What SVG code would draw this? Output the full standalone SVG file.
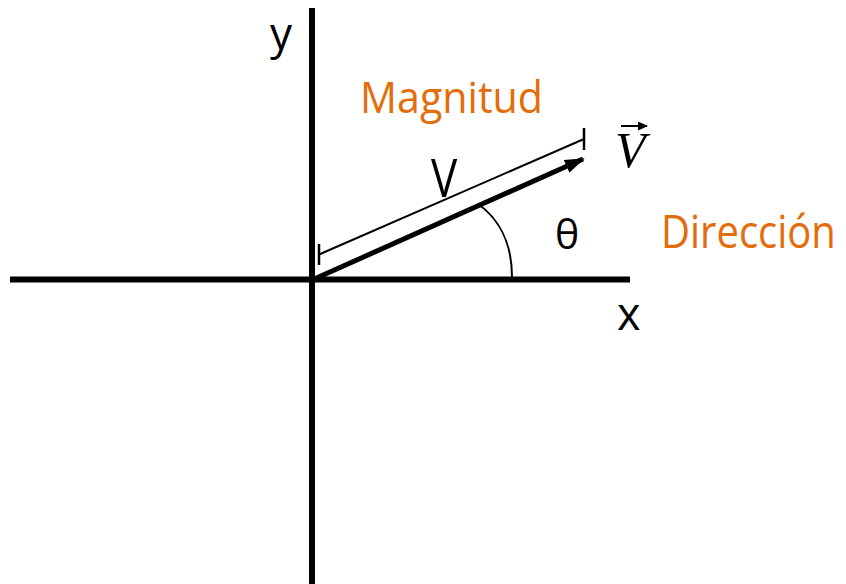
<svg xmlns="http://www.w3.org/2000/svg" width="846" height="584" viewBox="0 0 846 584">
<style>
.lbl{font-family:"Open Sans","DejaVu Sans",sans-serif;fill:#000}
.org{font-family:"Open Sans","DejaVu Sans",sans-serif;fill:#E46C0A}
.ax{stroke:#000;stroke-width:6;fill:none}
.thin{stroke:#000;stroke-width:2;fill:none}
</style>
<defs>
<marker id="ah" markerWidth="10" markerHeight="9" refX="9" refY="4.5" orient="auto" markerUnits="userSpaceOnUse" viewBox="0 0 10 9">
<path d="M0,0 L10,4.5 L0,9 Z" fill="#000"/>
</marker>
<marker id="big" viewBox="0 0 20 14" refX="18" refY="7" markerWidth="20" markerHeight="14" orient="auto" markerUnits="userSpaceOnUse">
<path d="M0,0 L20,7 L0,14 Z" fill="#000"/>
</marker>
</defs>
<rect width="846" height="584" fill="#fff"/>
<g id="axes">
<line class="ax" x1="10" y1="279.5" x2="630" y2="279.5"/>
<line class="ax" x1="312" y1="8" x2="312" y2="584"/>
</g>
<g id="connectors">
<line x1="312" y1="280" x2="583" y2="159" stroke="#000" stroke-width="5" marker-end="url(#big)"/>
<line class="thin" x1="319" y1="254.5" x2="584" y2="139"/>
<line x1="319" y1="244" x2="319" y2="265" stroke="#000" stroke-width="2.5"/>
<line x1="584" y1="128" x2="584" y2="150" stroke="#000" stroke-width="2.5"/>
<path class="thin" d="M478,204 C498,218 512,242 512,277"/>
</g>
<g id="labels">
<text class="lbl" x="270" y="49" font-size="44">y</text>
<text class="lbl" x="617" y="330" font-size="45">x</text>
<text class="lbl" x="555" y="249" font-size="41">θ</text>
<text class="lbl" x="431" y="197" font-size="44" transform="translate(0,-39) scale(1,1.2)">V</text>
<text class="org" x="360" y="113" font-size="43" textLength="183" lengthAdjust="spacingAndGlyphs">Magnitud</text>
<text class="org" x="661" y="221.4" font-size="40" transform="translate(0,0) scale(1,1.12)">Dirección</text>
</g>
<g id="vec">
<text x="615" y="167" font-family="'Liberation Serif',serif" font-style="italic" font-size="50" fill="#000">V</text>
<line x1="621" y1="126" x2="647" y2="126" stroke="#000" stroke-width="2" marker-end="url(#ah)"/>
</g>
</svg>
